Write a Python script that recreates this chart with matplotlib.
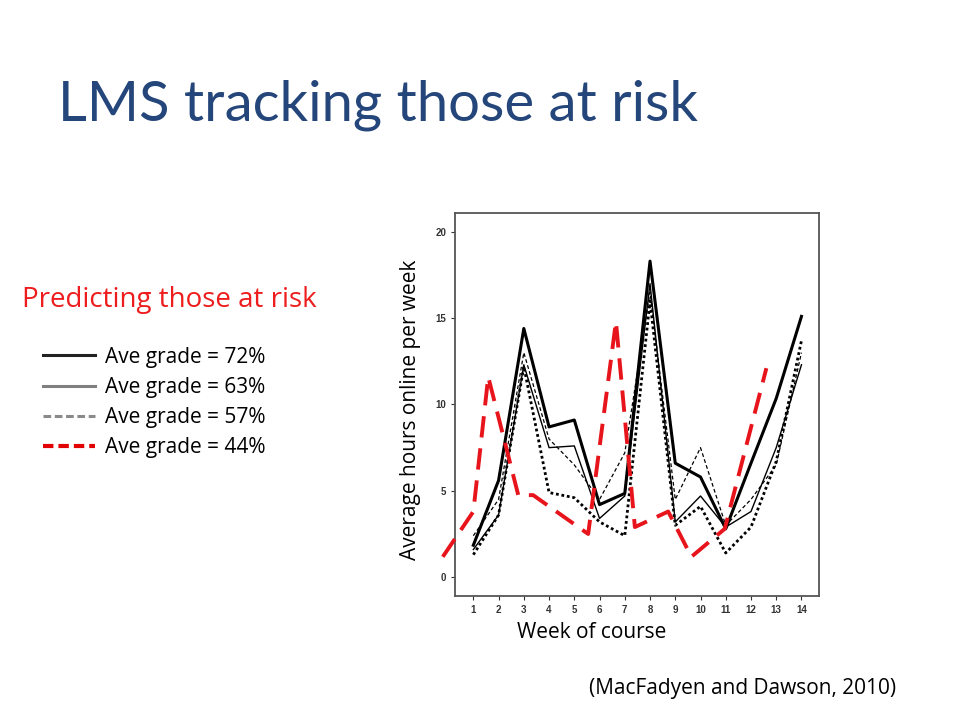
import matplotlib.pyplot as plt
from matplotlib.lines import Line2D

weeks = [1, 2, 3, 4, 5, 6, 7, 8, 9, 10, 11, 12, 13, 14]
grade72 = [1.85, 5.6, 14.4, 8.7, 9.1, 4.2, 4.85, 18.3, 6.6, 5.8, 2.8, 6.6, 10.35, 15.1]
grade63 = [1.6, 3.6, 12.3, 7.5, 7.6, 3.4, 4.7, 17.0, 3.2, 4.7, 2.9, 3.8, 7.5, 12.3]
grade57 = [2.4, 4.5, 13.0, 8.0, 6.5, 4.5, 7.2, 16.5, 4.5, 7.5, 3.0, 4.5, 6.5, 13.0]
dotted = [1.3, 3.6, 12.2, 4.9, 4.6, 3.2, 2.4, 16.0, 3.0, 4.1, 1.4, 2.9, 6.7, 13.7]
risk_x = [-0.21, 1.0, 1.59, 2.78, 3.37, 5.55, 6.65, 7.4, 8.72, 9.64, 10.96, 12.61]
risk_y = [1.18, 3.8, 11.6, 4.75, 4.75, 2.5, 14.8, 2.9, 3.8, 1.18, 2.8, 12.1]
legend_labels = ['Ave grade = 72%', 'Ave grade = 63%', 'Ave grade = 57%', 'Ave grade = 44%']

fig = plt.figure(figsize=(9.6, 7.2), dpi=100)
ax = fig.add_axes([0.474, 0.172, 0.379, 0.532])

ax.plot(weeks, grade72, color='black', lw=2.2)
ax.plot(weeks, grade63, color='black', lw=1.0)
ax.plot(weeks, grade57, color='black', lw=0.9, ls=(0, (3, 2)))
ax.plot(weeks, dotted, color='black', lw=2.0, ls=(0, (1, 1)))
ax.plot(risk_x, risk_y, color='#e8141b', lw=2.8, ls=(0, (5.5, 2.8)), clip_on=False, zorder=5)

ax.set_xlim(0.275, 14.69)
ax.set_ylim(-1.1, 21.08)
ax.set_xticks(weeks)
ax.set_yticks([0, 5, 10, 15, 20])
ax.tick_params(labelsize=7, length=3, width=0.8, colors='#333333')
for lab in ax.get_xticklabels() + ax.get_yticklabels():
    lab.set_fontweight('bold')
    lab.set_family('Liberation Sans')
for s in ax.spines.values():
    s.set_color('#555555')
    s.set_linewidth(1.3)

fig.text(0.060, 0.832, 'LMS tracking those at risk', fontsize=40.5, color='#25467a',
         family='Lato', va='baseline')
fig.text(0.023, 0.574, 'Predicting those at risk', fontsize=20, color='#ee1c1c',
         family='Open Sans', va='baseline')
fig.text(0.428, 0.431, 'Average hours online per week', fontsize=15, rotation=90,
         family='Open Sans', ha='center', va='center')
fig.text(0.616, 0.122, 'Week of course', fontsize=15, family='Open Sans',
         ha='center', va='center')
fig.text(0.773, 0.044, '(MacFadyen and Dawson, 2010)', fontsize=15, family='Open Sans',
         ha='center', va='center')

handles = [
    Line2D([], [], color='#222222', lw=2.2),
    Line2D([], [], color='#808080', lw=2.2),
    Line2D([], [], color='#8a8a8a', lw=2.2, ls=(0, (2.5, 1.2))),
    Line2D([], [], color='#e00000', lw=3.0, ls=(0, (2.5, 1.2))),
]
fig.legend(handles, legend_labels, loc='upper left', bbox_to_anchor=(0.036, 0.53),
           frameon=False, handlelength=2.5, handletextpad=0.5, labelspacing=0.44,
           borderaxespad=0, prop={'family': 'Open Sans', 'size': 15})

fig.savefig('out.png', dpi=100)
